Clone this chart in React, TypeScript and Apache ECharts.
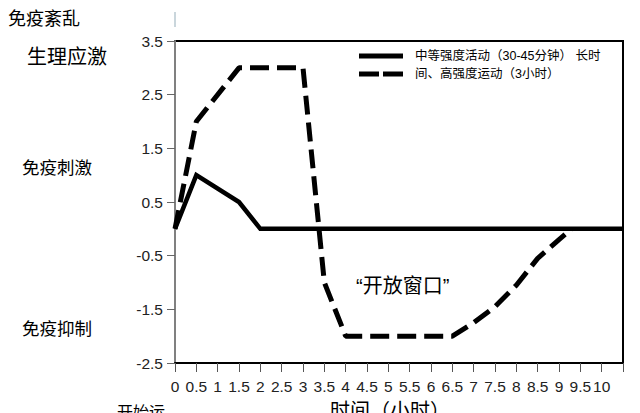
import React, { useEffect, useRef } from "react";
import * as echarts from "echarts";

// x values (hours) and y values
const solidSeries: [number, number][] = [
  [0, 0], [0.5, 1], [1.5, 0.5], [2, 0], [10.5, 0],
];
const dashedSeries: [number, number][] = [
  [0, 0], [0.5, 2], [1.5, 3], [3, 3], [3.5, -1], [4, -2], [6.5, -2],
  [7, -1.75], [7.5, -1.45], [8, -1.05], [8.5, -0.55], [9, -0.2], [9.3, 0],
];
const seriesNames = ["中等强度活动（30-45分钟）", "长时间、高强度运动（3小时）"];
const legendLines = ["中等强度活动（30-45分钟） 长时", "间、高强度运动（3小时）"];
const sideLabels = ["免疫紊乱", "生理应激", "免疫刺激", "免疫抑制"];
const xAxisTitle = "时间（小时）";
const startLabel = "开始运";
const windowLabel = "“开放窗口”";

const CJK = '"Liberation Sans", Arial, "Noto Sans CJK SC", sans-serif';

export default function App() {
  const ref = useRef<HTMLDivElement>(null);
  useEffect(() => {
    if (!ref.current) return;
    const chart = echarts.init(ref.current, null, { renderer: "svg" });
    chart.setOption({
      animation: false,
      backgroundColor: "#ffffff",
      grid: {
        left: 175, right: 17, top: 41, bottom: 50,
        show: true, borderColor: "#000", borderWidth: 2,
      },
      xAxis: {
        type: "value", min: 0, max: 10.5, interval: 0.5,
        axisLine: { show: true, onZero: false, lineStyle: { color: "#000", width: 2 } },
        axisTick: { show: true, length: 9, lineStyle: { color: "#555", width: 1 } },
        axisLabel: {
          margin: 15, color: "#222", fontSize: 15.5, fontFamily: '"Liberation Sans", Arial',
          formatter: (v: number) => (v > 10 ? "" : String(v)),
          hideOverlap: false,
        },
        splitLine: { show: false },
      },
      yAxis: {
        type: "value", min: -2.5, max: 3.5, interval: 1,
        axisLine: { show: true, onZero: false, lineStyle: { color: "#808080", width: 2 } },
        axisTick: { show: true, length: 8, lineStyle: { color: "#666", width: 1 } },
        axisLabel: { margin: 12, color: "#222", fontSize: 15.5, fontFamily: '"Liberation Sans", Arial' },
        splitLine: { show: false },
      },
      series: [
        {
          name: seriesNames[0], type: "line", data: solidSeries, symbol: "none",
          lineStyle: { color: "#000", width: 4.5, join: "miter" }, z: 3,
        },
        {
          name: seriesNames[1], type: "line", data: dashedSeries, symbol: "none",
          lineStyle: { color: "#000", width: 5, type: [19, 8] }, z: 4,
        },
      ],
      graphic: [
        { type: "line", shape: { x1: 175, y1: 12, x2: 175, y2: 27 }, style: { stroke: "#b8c8d0", lineWidth: 1.5 } },
        { type: "line", shape: { x1: 359, y1: 56, x2: 403, y2: 56 }, style: { stroke: "#000", lineWidth: 5 } },
        { type: "line", shape: { x1: 359, y1: 74, x2: 403, y2: 74 }, style: { stroke: "#000", lineWidth: 5, lineDash: [20, 4] } },
        { type: "text", x: 415, y: 56, style: { text: legendLines[0], fontSize: 12.5, fill: "#000", fontFamily: CJK, textVerticalAlign: "middle" } },
        { type: "text", x: 415, y: 74, style: { text: legendLines[1], fontSize: 12.5, fill: "#000", fontFamily: CJK, textVerticalAlign: "middle" } },
        { type: "text", x: 8, y: 19, style: { text: sideLabels[0], fontSize: 18, fill: "#000", fontFamily: CJK, textVerticalAlign: "middle" } },
        { type: "text", x: 27, y: 57, style: { text: sideLabels[1], fontSize: 20, fill: "#000", fontFamily: CJK, textVerticalAlign: "middle" } },
        { type: "text", x: 22, y: 168, style: { text: sideLabels[2], fontSize: 17.5, fill: "#000", fontFamily: CJK, textVerticalAlign: "middle" } },
        { type: "text", x: 22, y: 329, style: { text: sideLabels[3], fontSize: 17.5, fill: "#000", fontFamily: CJK, textVerticalAlign: "middle" } },
        { type: "text", x: 117, y: 404, style: { text: startLabel, fontSize: 16, fill: "#000", fontFamily: CJK, textVerticalAlign: "top" } },
        { type: "text", x: 330, y: 401, style: { text: xAxisTitle, fontSize: 20, fill: "#000", fontFamily: CJK, textVerticalAlign: "top" } },
        { type: "text", x: 356, y: 286, style: { text: windowLabel, fontSize: 20, fill: "#000", fontFamily: CJK, textVerticalAlign: "middle" } },
      ],
    });
    return () => chart.dispose();
  }, []);
  return (
    <div
      ref={ref}
      style={{ position: "absolute", left: 0, top: 0, width: 640, height: 413, background: "#fff" }}
    />
  );
}
